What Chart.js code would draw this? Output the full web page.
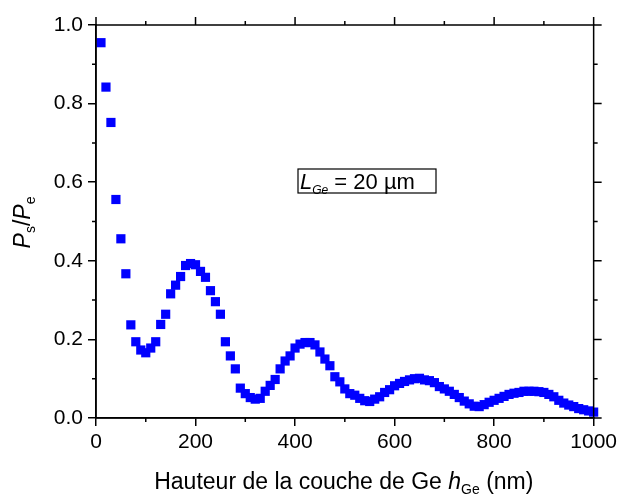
<!DOCTYPE html>
<html>
<head>
<meta charset="utf-8">
<script src="https://cdn.jsdelivr.net/npm/chart.js@4/dist/chart.umd.min.js"></script>
<style>
  html, body { margin: 0; padding: 0; background: #fff; }
  #wrap { width: 621px; height: 498px; }
</style>
</head>
<body>
<div id="wrap"><canvas id="myChart" width="621" height="498"></canvas></div>
<script>
// Ge layer height (nm) and transmitted power ratio Ps/Pe
const heights = [
  10, 20, 30, 40, 50, 60, 70, 80, 90, 100,
  110, 120, 130, 140, 150, 160, 170, 180, 190, 200,
  210, 220, 230, 240, 250, 260, 270, 280, 290, 300,
  310, 320, 330, 340, 350, 360, 370, 380, 390, 400,
  410, 420, 430, 440, 450, 460, 470, 480, 490, 500,
  510, 520, 530, 540, 550, 560, 570, 580, 590, 600,
  610, 620, 630, 640, 650, 660, 670, 680, 690, 700,
  710, 720, 730, 740, 750, 760, 770, 780, 790, 800,
  810, 820, 830, 840, 850, 860, 870, 880, 890, 900,
  910, 920, 930, 940, 950, 960, 970, 980, 990, 1000
];
const ratio = [
  0.955, 0.842, 0.752, 0.556, 0.456, 0.367, 0.237, 0.194, 0.173, 0.166,
  0.178, 0.194, 0.238, 0.264, 0.316, 0.338, 0.360, 0.388, 0.393, 0.390,
  0.373, 0.358, 0.324, 0.296, 0.264, 0.194, 0.158, 0.125, 0.076, 0.062,
  0.052, 0.048, 0.050, 0.068, 0.083, 0.098, 0.125, 0.145, 0.158, 0.178,
  0.188, 0.192, 0.192, 0.186, 0.168, 0.150, 0.133, 0.105, 0.092, 0.074,
  0.062, 0.058, 0.050, 0.044, 0.042, 0.048, 0.054, 0.065, 0.072, 0.082,
  0.088, 0.093, 0.097, 0.100, 0.101, 0.097, 0.095, 0.090, 0.080, 0.074,
  0.068, 0.060, 0.052, 0.043, 0.036, 0.030, 0.029, 0.034, 0.040, 0.045,
  0.050, 0.055, 0.060, 0.063, 0.065, 0.068, 0.068, 0.068, 0.067, 0.065,
  0.060, 0.054, 0.045, 0.038, 0.033, 0.029, 0.024, 0.021, 0.018, 0.015
];
const xMinorTicks = [100, 300, 500, 700, 900];
const xMajorTicks = [0, 200, 400, 600, 800, 1000];
const yMinorTicks = [0.1, 0.3, 0.5, 0.7, 0.9];
const yMajorTicks = [0, 0.2, 0.4, 0.6, 0.8, 1.0];

const FONT = "'Liberation Sans', Arial, sans-serif";

// draw a run of text pieces, some italic / subscript
function richText(ctx, parts, x, y, align) {
  let total = 0;
  parts.forEach((p) => {
    ctx.font = (p.italic ? "italic " : "") + p.size + "px " + FONT;
    p.w = ctx.measureText(p.text).width;
    total += p.w;
  });
  let cx = align === "center" ? x - total / 2 : x;
  parts.forEach((p) => {
    ctx.font = (p.italic ? "italic " : "") + p.size + "px " + FONT;
    ctx.fillText(p.text, cx, y + (p.dy || 0));
    cx += p.w;
  });
}

const framePlugin = {
  id: "frame",
  afterDraw(chart) {
    const ctx = chart.ctx;
    const a = chart.chartArea;
    const xs = chart.scales.x;
    const ys = chart.scales.y;
    ctx.save();
    ctx.strokeStyle = "#000";
    ctx.lineWidth = 1.5;
    ctx.strokeRect(a.left, a.top, a.right - a.left, a.bottom - a.top);

    ctx.beginPath();
    // mirrored and minor ticks, all outward
    xMajorTicks.forEach((v) => {
      const px = xs.getPixelForValue(v);
      ctx.moveTo(px, a.top);
      ctx.lineTo(px, a.top - 8);
    });
    xMinorTicks.forEach((v) => {
      const px = xs.getPixelForValue(v);
      ctx.moveTo(px, a.top);
      ctx.lineTo(px, a.top - 4);
      ctx.moveTo(px, a.bottom);
      ctx.lineTo(px, a.bottom + 4);
    });
    yMajorTicks.forEach((v) => {
      const py = ys.getPixelForValue(v);
      ctx.moveTo(a.right, py);
      ctx.lineTo(a.right + 8, py);
    });
    yMinorTicks.forEach((v) => {
      const py = ys.getPixelForValue(v);
      ctx.moveTo(a.left, py);
      ctx.lineTo(a.left - 4, py);
      ctx.moveTo(a.right, py);
      ctx.lineTo(a.right + 4, py);
    });
    ctx.stroke();

    ctx.fillStyle = "#000";
    ctx.textBaseline = "alphabetic";

    // x axis title
    richText(ctx, [
      { text: "Hauteur de la couche de Ge ", size: 23 },
      { text: "h", size: 23, italic: true },
      { text: "Ge", size: 14, dy: 5 },
      { text: " (nm)", size: 23 }
    ], (a.left + a.right) / 2 - 1, 489, "center");

    // y axis title, rotated
    ctx.save();
    ctx.translate(30, (a.top + a.bottom) / 2 + 1);
    ctx.rotate(-Math.PI / 2);
    richText(ctx, [
      { text: "P", size: 23, italic: true },
      { text: "s", size: 14, dy: 5 },
      { text: "/", size: 23 },
      { text: "P", size: 23, italic: true },
      { text: "e", size: 14, dy: 5 }
    ], 0, 0, "center");
    ctx.restore();

    // label box
    const bx = 298, by = 169, bw = 138, bh = 24;
    ctx.fillStyle = "#fff";
    ctx.fillRect(bx, by, bw, bh);
    ctx.lineWidth = 1.2;
    ctx.strokeRect(bx, by, bw, bh);
    ctx.fillStyle = "#000";
    richText(ctx, [
      { text: "L", size: 22, italic: true },
      { text: "Ge", size: 12, italic: true, dy: 5 },
      { text: " = 20 \u00b5m", size: 22 }
    ], bx + 2, by + 20, "left");
    ctx.restore();
  }
};

const chartCanvas = document.getElementById("myChart");
new Chart(chartCanvas, {
  type: "scatter",
  data: {
    datasets: [
      {
        label: "Ps/Pe",
        data: heights.map((h, i) => ({ x: h, y: ratio[i] })),
        backgroundColor: "#0000ff",
        borderColor: "#0000ff",
        borderWidth: 0,
        pointStyle: "rect",
        pointRadius: 6.5,
        pointHoverRadius: 6.5,
        showLine: false,
        clip: false
      }
    ]
  },
  options: {
    responsive: false,
    animation: false,
    events: [],
    layout: { padding: { left: 0, right: 25, top: 25, bottom: 0 } },
    plugins: {
      legend: { display: false },
      tooltip: { enabled: false }
    },
    scales: {
      x: {
        type: "linear",
        min: 0,
        max: 1000,
        afterFit: (scale) => { scale.height = 80; },
        afterBuildTicks: (scale) => { scale.ticks = xMajorTicks.map((v) => ({ value: v })); },
        ticks: {
          color: "#000",
          padding: 4,
          maxRotation: 0,
          font: { family: FONT, size: 21 },
          callback: (v) => String(v)
        },
        grid: { display: true, drawOnChartArea: false, drawTicks: true, tickLength: 8, color: "#000", lineWidth: 1.5 },
        border: { display: true, color: "#000", width: 1.5 }
      },
      y: {
        type: "linear",
        min: 0,
        max: 1,
        afterFit: (scale) => { scale.width = 96; },
        afterBuildTicks: (scale) => { scale.ticks = yMajorTicks.map((v) => ({ value: v })); },
        ticks: {
          color: "#000",
          padding: 5,
          font: { family: FONT, size: 21 },
          callback: (v) => Number(v).toFixed(1)
        },
        grid: { display: true, drawOnChartArea: false, drawTicks: true, tickLength: 8, color: "#000", lineWidth: 1.5 },
        border: { display: true, color: "#000", width: 1.5 }
      }
    }
  },
  plugins: [framePlugin]
});
</script>
</body>
</html>
